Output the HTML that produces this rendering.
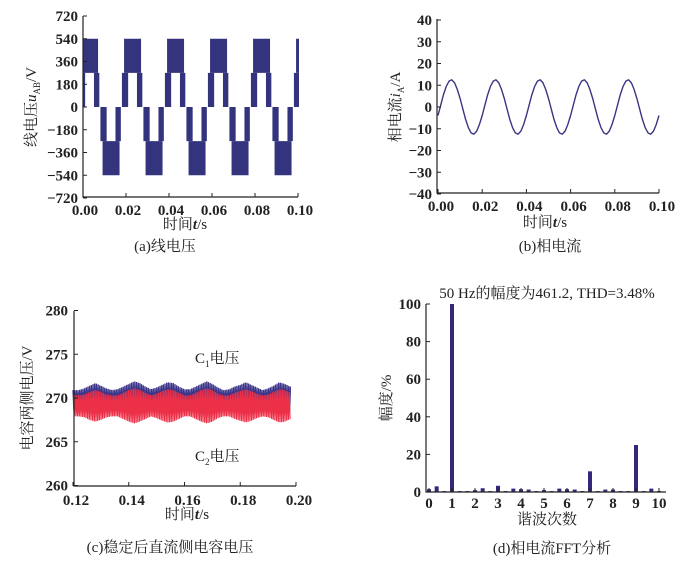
<!DOCTYPE html>
<html><head><meta charset="utf-8">
<style>
body{margin:0;background:#fff;}
svg{display:block;}
text{font-family:"Liberation Serif","Noto Serif CJK SC","Noto Sans CJK SC",serif;fill:#222;}
.tk{font-size:15px;font-weight:bold;}
.cn{font-size:15px;}
</style></head>
<body>
<svg id="fig" width="700" height="566" viewBox="0 0 700 566" xmlns="http://www.w3.org/2000/svg">
<defs>
<clipPath id="clipA"><rect x="83" y="10" width="216" height="190"/></clipPath>
<clipPath id="clipC"><rect x="74" y="300" width="222" height="190"/></clipPath>
</defs>
</svg>
<script>
// ---------- Panel (a) line voltage: PWM segments within one period ----------
const aSegStart = [0, 0.0010, 0.0070, 0.0100, 0.0110, 0.0170];
const aSegEnd   = [0.0029, 0.0089, 0.0095, 0.0129, 0.0189, 0.0195];
const aSegLow   = [0, 270, 0, -270, -540, -270];
const aSegHigh  = [270, 540, 270, 0, -270, 0];
const aPeriod = 0.02;
const aOffset = -0.0019;
const aYTicks = [720, 540, 360, 180, 0, -180, -360, -540, -720];
const aXTicks = [0, 0.02, 0.04, 0.06, 0.08, 0.10];

// ---------- Panel (b) phase current, sampled every 0.00125 s ----------
const bCycle = [-3.9, 1.0, 5.7, 9.5, 11.9, 12.5, 11.1, 8.1, 3.9, -1.0, -5.7, -9.5, -11.9, -12.5, -11.1, -8.1];
const bValues = [].concat(bCycle, bCycle, bCycle, bCycle, bCycle, [-3.9]);
const bStep = 0.00125;
const bYTicks = [40, 30, 20, 10, 0, -10, -20, -30, -40];
const bXTicks = [0, 0.02, 0.04, 0.06, 0.08, 0.10];

// ---------- Panel (c) capacitor voltage envelopes, every 0.002 s from 0.12 ----------
const cBlueTop = [270.9,270.9,271.1,271.4,271.7,271.4,271.1,270.9,271.0,271.3,271.6,271.9,271.7,271.3,271.0,271.2,271.5,271.8,271.7,271.3,271.0,271.0,271.3,271.6,271.9,271.6,271.2,270.9,271.0,271.3,271.5,271.8,271.5,271.2,270.9,271.1,271.4,271.8,271.6,271.3];
const cBlueBot = [268.7,268.7,268.6,268.4,268.3,268.4,268.6,268.7,268.7,268.5,268.3,268.1,268.3,268.5,268.7,268.6,268.4,268.2,268.3,268.5,268.7,268.7,268.5,268.3,268.1,268.3,268.6,268.7,268.7,268.5,268.4,268.2,268.4,268.6,268.7,268.6,268.4,268.2,268.3,268.5];
const cRedTop = [270.3,270.3,270.4,270.7,270.9,270.7,270.4,270.3,270.3,270.6,270.9,271.1,270.9,270.6,270.3,270.5,270.8,271.0,270.9,270.6,270.3,270.3,270.6,270.9,271.1,270.9,270.5,270.3,270.3,270.6,270.8,271.0,270.8,270.5,270.3,270.4,270.7,271.0,270.9,270.6];
const cRedBot = [267.9,267.9,267.8,267.5,267.3,267.5,267.8,267.9,267.9,267.6,267.3,267.1,267.3,267.6,267.9,267.7,267.4,267.2,267.3,267.6,267.9,267.9,267.6,267.3,267.1,267.3,267.7,267.9,267.9,267.6,267.4,267.2,267.4,267.7,267.9,267.8,267.5,267.2,267.3,267.6];
const cT0 = 0.12, cDt = 0.002;
const cYTicks = [280, 275, 270, 265, 260];
const cXTicks = [0.12, 0.14, 0.16, 0.18, 0.20];

// ---------- Panel (d) FFT, bars every 1/3 harmonic ----------
const dValues = [1.5,3.0,0.5,100,0.5,0.5,1.0,2.0,0.5,3.3,0.5,1.8,1.5,1.3,0.5,1.0,0.5,1.8,1.5,1.3,0.5,11,0.5,1.3,1.3,0.5,0.5,25,0.5,1.8,0.5];
const dYTicks = [100, 80, 60, 40, 20, 0];
const dXTicks = [0,1,2,3,4,5,6,7,8,9,10];

const NS = "http://www.w3.org/2000/svg";
const svg = document.getElementById('fig');
function mk(tag, attrs, parent){ const e=document.createElementNS(NS,tag); for(const k in attrs) e.setAttribute(k,attrs[k]); (parent||svg).appendChild(e); return e; }
function txt(x,y,s,cls,anchor,parent){ const t=mk('text',{x:x,y:y,'class':cls,'text-anchor':anchor||'middle'},parent); t.textContent=s; return t; }

const ax = t => 83 + t/0.1*215, ay = v => 107 - v/720*91;
const bx = t => 438 + t/0.1*221, by = v => 107 - v/40*87;
const cx = t => 73 + (t-0.12)/0.08*223, cy = v => 398 - (v-270)/5*43.75;
const dx = h => 429 + h*23, dy = v => 492 - v/100*188;

function frame(x0,y0,x1,y1,name){
  const g = mk('path',{d:`M${x0},${y0} V${y1} H${x1}`,stroke:'#222','stroke-width':1.2,fill:'none'});
  
  
}

// ===== Panel A =====
const gA = mk('g',{});


const aSer = mk('g',{'clip-path':'url(#clipA)',fill:'#34347e'},gA);


for(let k=0;k<6;k++){
  for(let i=0;i<aSegStart.length;i++){
    const t0=aOffset+k*aPeriod+aSegStart[i], t1=aOffset+k*aPeriod+aSegEnd[i];
    const r=mk('rect',{x:ax(t0),y:ay(aSegHigh[i]),width:ax(t1)-ax(t0),height:ay(aSegLow[i])-ay(aSegHigh[i])},aSer);
    
    
  }
}
frame(83,16,298,197,'panel-a-axes');
aYTicks.forEach(v=>{ mk('line',{x1:83,x2:87,y1:ay(v),y2:ay(v),stroke:'#222'},gA);
  const t=txt(78,ay(v)+5,(v<0?'−':'')+Math.abs(v),'tk','end',gA);
  
   });
aXTicks.forEach(v=>{ mk('line',{x1:ax(v),x2:ax(v),y1:197,y2:193,stroke:'#222'},gA);
  const t=txt(ax(v)+2,215,v.toFixed(2),'tk','middle',gA);
  
   });
const aXT = txt(185,229,'','cn','middle',gA); aXT.innerHTML='时间<tspan font-style="italic" font-weight="bold">t</tspan>/s';


const aYT = txt(0,0,'','cn','middle',gA); aYT.setAttribute('transform','translate(36,107) rotate(-90)');
aYT.innerHTML='线电压<tspan font-style="italic">u</tspan><tspan font-size="9" dy="4">AB</tspan><tspan dy="-4">/V</tspan>';


const aCap = txt(165,251,'(a)线电压','cn','middle',gA);



// ===== Panel B =====
const gB = mk('g',{});


let bd='';
bValues.forEach((v,i)=>{ bd += (i?'L':'M')+bx(i*bStep).toFixed(1)+','+by(v).toFixed(1); });
const bLine = mk('path',{d:bd,stroke:'#3a3582','stroke-width':1.4,fill:'none','stroke-linejoin':'round'},gB);


frame(437,19,659,193,'panel-b-axes');
bYTicks.forEach(v=>{ mk('line',{x1:437,x2:441,y1:by(v),y2:by(v),stroke:'#222'},gB);
  const t=txt(432,by(v)+5,(v<0?'−':'')+Math.abs(v),'tk','end',gB);
  
   });
bXTicks.forEach(v=>{ mk('line',{x1:bx(v),x2:bx(v),y1:193,y2:189,stroke:'#222'},gB);
  const t=txt(bx(v)+3,211,v.toFixed(2),'tk','middle',gB);
  
   });
const bXT = txt(545,227,'','cn','middle',gB); bXT.innerHTML='时间<tspan font-style="italic" font-weight="bold">t</tspan>/s';


const bYT = txt(0,0,'','cn','middle',gB); bYT.setAttribute('transform','translate(400,107) rotate(-90)');
bYT.innerHTML='相电流<tspan font-style="italic">i</tspan><tspan font-size="9" dy="4">A</tspan><tspan dy="-4">/A</tspan>';


const bCap = txt(550,251,'(b)相电流','cn','middle',gB);



// ===== Panel C =====
const gC = mk('g',{});


function envAt(arr,t){ const f=(t-cT0)/cDt; const i=Math.max(0,Math.min(arr.length-2,Math.floor(f))); const r=Math.min(1,Math.max(0,f-i)); return arr[i]*(1-r)+arr[i+1]*r; }
function zig(top,bot,color,w,name,phase){
  let d=''; const tEnd=cT0+cDt*(top.length-1); let n=0;
  for(let t=cT0+phase;t<=tEnd;t+=0.0003){ const v=(n%2)?envAt(bot,t):envAt(top,t); d+=(n?'L':'M')+cx(t).toFixed(2)+','+cy(v).toFixed(2); n++; }
  const p=mk('path',{d:d,stroke:color,'stroke-width':w,fill:'none'},gC);
  
  
}
zig(cBlueTop,cBlueBot,'#3b3488',1.3,'c1-voltage-series',0);
zig(cRedTop,cRedBot,'#ec3048',1.2,'c2-voltage-series',0.00015);
frame(74,311,296,486,'panel-c-axes');
cYTicks.forEach(v=>{ mk('line',{x1:74,x2:78,y1:cy(v),y2:cy(v),stroke:'#222'},gC);
  const t=txt(68,cy(v)+5,String(v),'tk','end',gC);
  
   });
cXTicks.forEach(v=>{ mk('line',{x1:cx(v),x2:cx(v),y1:486,y2:482,stroke:'#222'},gC);
  const t=txt(cx(v)+3,505,v.toFixed(2),'tk','middle',gC);
  
   });
const c1 = txt(195,363,'','cn','start',gC); c1.innerHTML='C<tspan font-size="9" dy="4">1</tspan><tspan dy="-4">电压</tspan>';


const c2 = txt(195,461,'','cn','start',gC); c2.innerHTML='C<tspan font-size="9" dy="4">2</tspan><tspan dy="-4">电压</tspan>';


const cXT = txt(187,519,'','cn','middle',gC); cXT.innerHTML='时间<tspan font-style="italic" font-weight="bold">t</tspan>/s';


const cYT = txt(0,0,'电容两侧电压/V','cn','middle',gC); cYT.setAttribute('transform','translate(32,398) rotate(-90)');


const cCap = txt(170,552,'(c)稳定后直流侧电容电压','cn','middle',gC);



// ===== Panel D =====
const gD = mk('g',{});


dValues.forEach((v,i)=>{ const h=i/3;
  const r=mk('rect',{x:dx(h)-2,y:dy(v),width:4,height:dy(0)-dy(v),fill:'#35287a'},gD);
  
   });
frame(426,304,666,492,'panel-d-axes');
dYTicks.forEach(v=>{ mk('line',{x1:426,x2:430,y1:dy(v),y2:dy(v),stroke:'#222'},gD);
  const t=txt(421,dy(v)+5,String(v),'tk','end',gD);
  
   });
dXTicks.forEach(v=>{ mk('line',{x1:dx(v),x2:dx(v),y1:492,y2:488,stroke:'#222'},gD);
  const t=txt(dx(v),508,String(v),'tk','middle',gD);
  
   });
const dTitle = txt(547,298,'50 Hz的幅度为461.2, THD=3.48%','cn','middle',gD);


const dXT = txt(547,524,'谐波次数','cn','middle',gD);


const dYT = txt(0,0,'幅度/%','cn','middle',gD); dYT.setAttribute('transform','translate(391,398) rotate(-90)');


const dCap = txt(552,553,'(d)相电流FFT分析','cn','middle',gD);


</script>
</body></html>
